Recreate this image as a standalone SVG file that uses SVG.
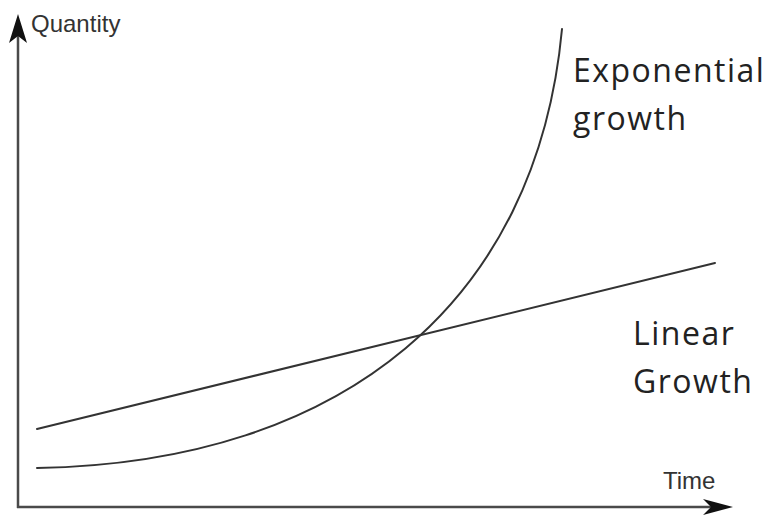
<svg xmlns="http://www.w3.org/2000/svg" width="768" height="515" viewBox="0 0 768 515">
  <style>
    .axis { stroke: #4a4a4a; stroke-width: 2.5; fill: none; }
    .curve { stroke: #333; stroke-width: 2; fill: none; stroke-linecap: round; }
    .axlabel { font-family: "Liberation Sans", Arial, sans-serif; font-size: 24px; fill: #333; }
    .label { font-family: "Open Sans", "Noto Sans", sans-serif; font-size: 32px; fill: #222; letter-spacing: 1.5px; }
    .head { fill: #111; }
  </style>
  <rect width="768" height="515" fill="#fff"/>
  <g id="axes">
    <line class="axis" x1="18" y1="508" x2="18" y2="34"/>
    <line class="axis" x1="17" y1="507" x2="712" y2="507"/>
    <path class="head" d="M18,14 L27,43 L18,36 L9,43 Z"/>
    <path class="head" d="M733,507 L703,499 L711,507 L703,515 Z"/>
    <text class="axlabel" x="31" y="32">Quantity</text>
    <text class="axlabel" x="663" y="489">Time</text>
  </g>
  <g id="connectors">
    <line id="linear" class="curve" x1="37" y1="429" x2="715" y2="263"/>
    <path id="exponential" class="curve" d="M37,468 C345,463 537,300 562,29"/>
  </g>
  <g id="label-exponential">
    <text class="label" x="573" y="82">Exponential</text>
    <text class="label" x="573" y="130">growth</text>
  </g>
  <g id="label-linear">
    <text class="label" x="633" y="345">Linear</text>
    <text class="label" x="633" y="393">Growth</text>
  </g>
</svg>
